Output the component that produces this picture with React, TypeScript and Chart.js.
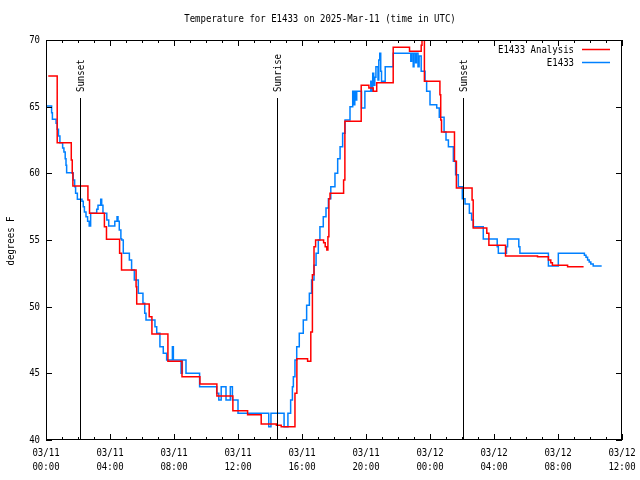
import React, { useEffect, useRef } from "react";
import { Chart, registerables } from "chart.js";

Chart.register(...registerables);

// ---- data (hours since 03/11 00:00 UTC, degrees F) ----
const redHours = [
  0.14, 0.7, 1.58, 1.64, 1.68, 2.62, 2.72, 3.65, 3.78, 4.6, 4.72, 5.63, 5.67, 6.45, 6.62,
  7.62, 8.5, 9.62, 10.68, 11.68, 12.6, 13.45, 14.4, 14.7, 15.56, 15.68, 16.35, 16.55, 16.65,
  16.75, 16.85, 17.35, 17.45, 17.55, 17.62, 17.68, 17.75, 18.6, 18.68, 19.7, 20.18, 20.45,
  20.67, 21.7, 22.72, 23.45, 23.5, 23.65, 24.62, 24.67, 24.72, 25.53, 25.65, 26.63, 26.7,
  27.55, 27.68, 28.72, 30.72, 31.4, 31.55, 31.65, 32.6, 33.6,
];
const redTemps = [
  67.3, 62.3, 61.0, 60.0, 59.05, 58.0, 57.0, 56.0, 55.05, 54.0, 52.75, 51.5, 50.2, 49.25, 47.95,
  45.9, 44.75, 44.2, 43.3, 42.2, 41.9, 41.2, 41.1, 41.0, 43.5, 46.1, 45.9, 48.1, 52.4,
  54.5, 55.0, 54.8, 54.5, 54.25, 55.25, 58.1, 58.5, 59.5, 63.9, 66.6, 66.4, 66.15,
  66.8, 69.45, 69.15, 69.6, 70.6, 66.9, 65.9, 64.0, 63.1, 60.9, 58.9, 58.0, 55.9,
  55.5, 54.6, 53.8, 53.75, 53.5, 53.3, 53.1, 53.0, 53.0,
];

const blueHours = [
  0.02, 0.35, 0.4, 0.63, 0.7, 0.78, 0.87, 1.04, 1.12, 1.2, 1.25, 1.29, 1.7, 1.79, 1.85, 1.96,
  2.25, 2.33, 2.4, 2.5, 2.6, 2.7, 2.79, 3.17, 3.25, 3.42, 3.48, 3.56, 3.8, 3.92, 4.3, 4.44,
  4.5, 4.58, 4.68, 4.73, 4.83, 5.21, 5.35, 5.52, 5.77, 6.06, 6.17, 6.25, 6.81, 6.92, 7.12,
  7.33, 7.54, 7.9, 7.96, 8.44, 8.52, 8.75, 9.6, 10.67, 10.8, 10.95, 11.25, 11.52, 11.65,
  12.0, 13.92, 14.06, 14.88, 15.12, 15.29, 15.4, 15.46, 15.56, 15.67, 15.83, 16.08, 16.29,
  16.46, 16.6, 16.75, 16.88, 17.02, 17.12, 17.33, 17.5, 17.65, 17.8, 18.06, 18.23, 18.38,
  18.54, 18.69, 19.0, 19.17, 19.25, 19.3, 19.36, 19.42, 19.72, 19.93, 20.3, 20.36, 20.42,
  20.48, 20.55, 20.62, 20.75, 20.8, 20.86, 20.92, 20.97, 21.2, 21.7, 22.8, 22.85, 22.95,
  23.0, 23.1, 23.15, 23.25, 23.32, 23.45, 23.69, 23.79, 24.0, 24.42, 24.58, 24.88, 25.0,
  25.15, 25.46, 25.6, 25.77, 26.02, 26.19, 26.46, 26.6, 26.71, 27.33, 28.2, 28.27, 28.78,
  28.85, 29.55, 29.62, 31.4, 32.02, 33.65, 33.75, 33.85, 33.95, 34.05, 34.2, 34.73,
];
const blueTemps = [
  65.05, 64.55, 64.05, 63.75, 63.3, 62.8, 62.3, 61.9, 61.6, 61.1, 60.6, 60.05, 59.5, 59.0, 58.5, 58.05,
  57.9, 57.5, 57.1, 56.75, 56.4, 56.05, 57.0, 57.3, 57.6, 58.05, 57.6, 57.0, 56.5, 56.05, 56.4, 56.75,
  56.4, 55.75, 55.1, 55.0, 54.0, 53.5, 52.75, 52.0, 51.0, 50.25, 49.5, 49.0, 48.5, 48.0, 47.0,
  46.5, 46.0, 47.0, 46.0, 45.0, 46.0, 45.0, 44.0, 43.5, 43.0, 44.0, 43.0, 44.0, 43.0,
  42.0, 41.0, 42.0, 41.0, 42.0, 43.0, 44.0, 44.75, 46.0, 47.0, 48.0, 49.0, 50.1,
  51.0, 52.0, 53.1, 54.0, 55.0, 56.0, 56.75, 57.4, 58.1, 59.0, 60.0, 61.1, 62.0,
  63.0, 64.0, 65.0, 66.15, 65.15, 66.15, 65.5, 66.15, 64.9, 66.15, 66.9, 66.15, 67.5,
  66.6, 67.2, 68.0, 67.0, 68.5, 69.0, 67.65, 66.9, 68.0, 69.0, 68.4, 69.0, 68.0,
  69.0, 68.3, 69.0, 68.0, 68.8, 67.65, 66.9, 66.15, 65.15, 64.9, 64.2, 63.1, 62.5,
  62.0, 60.9, 59.9, 59.0, 58.1, 57.7, 57.0, 56.5, 56.0, 55.07, 54.5, 54.0, 54.5,
  55.07, 54.5, 54.0, 53.05, 54.0, 53.85, 53.7, 53.5, 53.35, 53.2, 53.05, 53.05,
];

const xTickHours = [0, 4, 8, 12, 16, 20, 24, 28, 32, 36];
const xTickDates = ["03/11", "03/11", "03/11", "03/11", "03/11", "03/11", "03/12", "03/12", "03/12", "03/12"];
const xTickTimes = ["00:00", "04:00", "08:00", "12:00", "16:00", "20:00", "00:00", "04:00", "08:00", "12:00"];
const yTicks = [40, 45, 50, 55, 60, 65, 70];

const sunHours = [2.14, 14.46, 26.08];
const sunLabels = ["Sunset", "Sunrise", "Sunset"];

const titleText = "Temperature for E1433 on 2025-Mar-11 (time in UTC)";
const yAxisTitle = "degrees F";
const seriesNames = ["E1433 Analysis", "E1433"];
const seriesColors = ["#ff0000", "#0080ff"];

const FONT = "11px 'DejaVu Sans Mono'";
const SX = 0.82;

function drawText(
  ctx: CanvasRenderingContext2D,
  text: string,
  x: number,
  y: number,
  align: CanvasTextAlign,
  rotate = false
) {
  ctx.save();
  ctx.translate(x, y);
  if (rotate) ctx.rotate(-Math.PI / 2);
  ctx.scale(SX, 1);
  ctx.font = FONT;
  ctx.textAlign = align;
  ctx.textBaseline = "middle";
  ctx.fillStyle = "#000";
  ctx.fillText(text, 0, 0);
  ctx.restore();
}

const decorPlugin = {
  id: "gnuplotDecor",
  beforeDraw(chart: any) {
    const ctx = chart.ctx as CanvasRenderingContext2D;
    ctx.save();
    ctx.fillStyle = "#fff";
    ctx.fillRect(0, 0, chart.width, chart.height);
    ctx.restore();
  },
  afterDraw(chart: any) {
    const ctx = chart.ctx as CanvasRenderingContext2D;
    const xs = chart.scales.x;
    const ys = chart.scales.y;
    const { left, right, top, bottom } = chart.chartArea;
    ctx.save();
    ctx.strokeStyle = "#000";
    ctx.lineWidth = 1;

    // frame
    ctx.strokeRect(left + 0.5, top + 0.5, right - left - 1, bottom - top - 1);

    // x ticks (minor every hour, major every 4h)
    ctx.beginPath();
    for (let h = 0; h <= 36; h++) {
      const px = Math.round(xs.getPixelForValue(h)) + 0.5;
      const len = h % 4 === 0 ? 6 : 3;
      ctx.moveTo(px, bottom);
      ctx.lineTo(px, bottom - len);
      ctx.moveTo(px, top);
      ctx.lineTo(px, top + len);
    }
    // y ticks
    for (const v of yTicks) {
      const py = Math.round(ys.getPixelForValue(v)) + 0.5;
      ctx.moveTo(left, py);
      ctx.lineTo(left + 6, py);
      ctx.moveTo(right, py);
      ctx.lineTo(right - 6, py);
    }
    ctx.stroke();

    // sun lines
    ctx.beginPath();
    sunHours.forEach((h) => {
      const px = Math.floor(xs.getPixelForValue(h)) + 0.5;
      ctx.moveTo(px, 98);
      ctx.lineTo(px, bottom);
    });
    ctx.stroke();
    sunHours.forEach((h, i) => {
      const px = Math.floor(xs.getPixelForValue(h)) + 1;
      drawText(ctx, sunLabels[i], px, 92, "left", true);
    });

    // tick labels
    yTicks.forEach((v) => {
      drawText(ctx, String(v), left - 6, ys.getPixelForValue(v), "right");
    });
    xTickHours.forEach((h, i) => {
      const px = xs.getPixelForValue(h);
      drawText(ctx, xTickDates[i], px, bottom + 13, "center");
      drawText(ctx, xTickTimes[i], px, bottom + 27, "center");
    });

    // titles
    drawText(ctx, titleText, 320, 19, "center");
    drawText(ctx, yAxisTitle, 11, 241, "center", true);

    // legend
    const legendY = [49.5, 62.5];
    seriesNames.forEach((name, i) => {
      drawText(ctx, name, 574, legendY[i] + 0.5, "right");
      ctx.strokeStyle = seriesColors[i];
      ctx.lineWidth = 1.5;
      ctx.beginPath();
      ctx.moveTo(582, legendY[i]);
      ctx.lineTo(610, legendY[i]);
      ctx.stroke();
    });
    ctx.restore();
  },
};

export default function App() {
  const canvasRef = useRef<HTMLCanvasElement | null>(null);

  useEffect(() => {
    document.body.style.margin = "0";
    const canvas = canvasRef.current;
    if (!canvas) return;
    const chart = new Chart(canvas, {
      type: "line",
      data: {
        datasets: [
          {
            label: seriesNames[0],
            data: redHours.map((h, i) => ({ x: h, y: redTemps[i] })),
            borderColor: seriesColors[0],
            borderWidth: 1.5,
            pointRadius: 0,
            stepped: true,
            fill: false,
          },
          {
            label: seriesNames[1],
            data: blueHours.map((h, i) => ({ x: h, y: blueTemps[i] })),
            borderColor: seriesColors[1],
            borderWidth: 1.5,
            pointRadius: 0,
            stepped: true,
            fill: false,
          },
        ],
      },
      options: {
        animation: false,
        responsive: false,
        maintainAspectRatio: false,
        events: [],
        layout: { padding: { left: 46, right: 18, top: 40, bottom: 40 } },
        plugins: {
          legend: { display: false },
          title: { display: false },
          tooltip: { enabled: false },
        },
        scales: {
          x: { type: "linear", min: 0, max: 36, display: false },
          y: { type: "linear", min: 40, max: 70, display: false },
        },
      },
      plugins: [decorPlugin],
    });
    return () => chart.destroy();
  }, []);

  return (
    <div style={{ position: "absolute", left: 0, top: 0, width: 640, height: 480 }}>
      <canvas ref={canvasRef} width={640} height={480} style={{ display: "block" }} />
    </div>
  );
}
